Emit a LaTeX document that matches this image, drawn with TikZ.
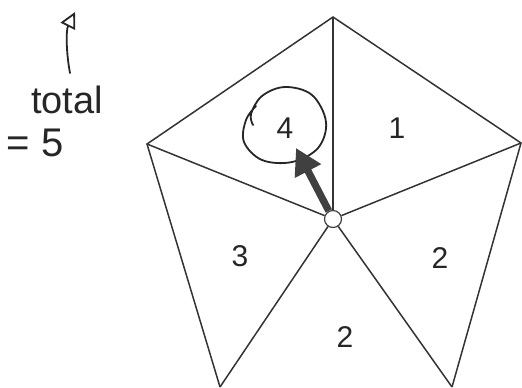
\documentclass[tikz,border=0pt]{standalone}
\usepackage{fontspec}
\setmainfont{Liberation Sans}
\usetikzlibrary{arrows.meta}

\begin{document}
\begin{tikzpicture}
    [x=0.5pt, y=-0.5pt,
     edge/.style={draw=black!80, line width=0.75pt},
     hub/.style={circle, draw=black!75, fill=white, line width=0.6pt, inner sep=0pt, minimum size=8.5pt},
     count/.style={font=\fontsize{15}{17}\selectfont, text=black!85},
     pen/.style={draw=black!85, line width=0.9pt, line cap=round, line join=round}]
    \useasboundingbox (0,0) rectangle (522,387);

    \coordinate (vtop)   at (333,17);
    \coordinate (vleft)  at (147,144);
    \coordinate (vright) at (521,143);
    \coordinate (vbl)    at (220,387);
    \coordinate (vbr)    at (452,387);
    \node (hub) at (333,219) [hub] {};

    \draw[edge] (vbl) -- (vleft) -- (vtop) -- (vright) -- (vbr);
    \foreach \v in {vtop, vleft, vright, vbl, vbr}
        \draw[edge] (hub) -- (\v);

    \node (c1) at (397,128) [count] {1};
    \node (c4) at (285,128) [count] {4};
    \node (c3) at (240,256) [count] {3};
    \node (c2r) at (440,258) [count] {2};
    \node (c2b) at (345,337) [count] {2};

    % hand-drawn ring around the 4
    \draw[pen] plot[smooth, tension=0.6] coordinates
        {(253,125) (251,114) (262,96) (285,87) (312,95) (326,122) (318,148)
         (292,162) (262,160) (244,142) (246,120) (256,106)};
    \coordinate (tip) at (296,148);
    \draw[draw=black!75, line width=3.6pt, -{Triangle[length=13pt, width=14pt]}]
        (hub) -- (tip);

    \node (total) at (67,100) [font=\fontsize{19}{21}\selectfont, text=black!85] {total};
    \node (sum) at (35,143) [font=\fontsize{20}{22}\selectfont, text=black!85] {= 5};
    \coordinate (up) at (75,12);
    \draw[pen, -{Triangle[open, length=8pt, width=8pt]}]
        (70,73) .. controls (66,52) and (66,30) .. (up);
\end{tikzpicture}
\end{document}
